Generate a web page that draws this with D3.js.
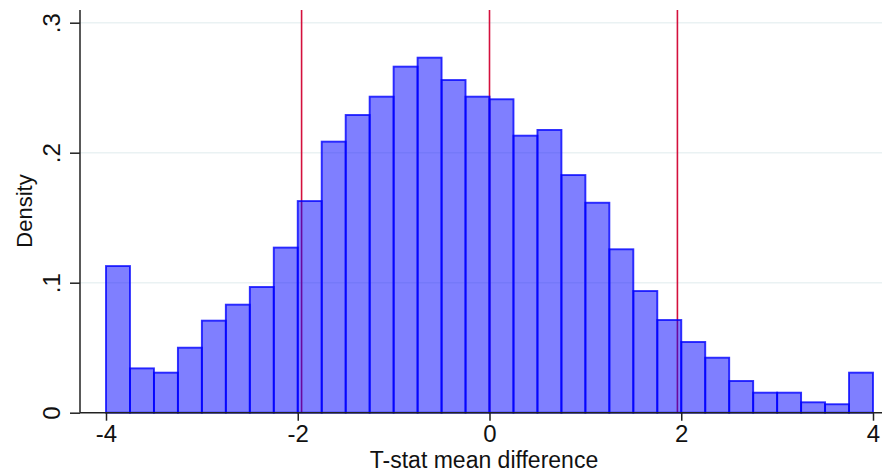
<!DOCTYPE html>
<html><head><meta charset="utf-8">
<script src="https://cdn.jsdelivr.net/npm/d3@7"></script>
<style>body{margin:0;background:#fff} svg{display:block}</style>
</head><body><svg id="c" width="882" height="474"></svg>
<script>
// ---- data ----
const binStart = -4;
const binWidth = 0.25;
const density = [
  0.1128, 0.0341, 0.0308, 0.0500, 0.0708, 0.0831, 0.0967, 0.1270,
  0.1628, 0.2085, 0.2290, 0.2431, 0.2662, 0.2731, 0.2559, 0.2431,
  0.2411, 0.2131, 0.2175, 0.1828, 0.1615, 0.1257, 0.0936, 0.0713,
  0.0544, 0.0423, 0.0244, 0.0154, 0.0154, 0.0080, 0.0065, 0.0308
];
const xTicks = [-4, -2, 0, 2, 4];
const xTickLabels = ["-4", "-2", "0", "2", "4"];
const yTicks = [0, 0.1, 0.2, 0.3];
const yTickLabels = ["0", ".1", ".2", ".3"];
const refLines = [-1.96, 0, 1.96];
const xTitle = "T-stat mean difference";
const yTitle = "Density";

// ---- layout ----
const W = 882, H = 474;
const plotLeft = 80, plotTop = 10, plotBottom = 412.7, plotRight = 900;
const font = "'Liberation Sans', Arial, sans-serif";

const bins = density.map((d, i) => ({x0: binStart + i * binWidth, x1: binStart + (i + 1) * binWidth, v: d}));

const x = d3.scaleLinear().domain([-4, 4]).range([106, 873]);
const y = d3.scaleLinear().domain([0, 0.3]).range([plotBottom, 22.7]);

const svg = d3.select("#c");
svg.append("rect").attr("width", W).attr("height", H).attr("fill", "#fff");

// gridlines
svg.append("g").selectAll("line").data(yTicks.filter(t => t > 0)).join("line")
  .attr("x1", plotLeft).attr("x2", plotRight)
  .attr("y1", d => y(d)).attr("y2", d => y(d))
  .attr("stroke", "#eaf2f3").attr("stroke-width", 1.5);

// reference lines (behind bars)
svg.append("g").selectAll("line").data(refLines).join("line")
  .attr("x1", d => x(d)).attr("x2", d => x(d))
  .attr("y1", plotTop).attr("y2", plotBottom)
  .attr("stroke", "#d4103c").attr("stroke-width", 1.6);

// bars
svg.append("g").selectAll("rect").data(bins).join("rect")
  .attr("x", d => x(d.x0)).attr("width", d => x(d.x1) - x(d.x0))
  .attr("y", d => y(d.v)).attr("height", d => y(0) - y(d.v))
  .attr("fill", "#0000ff").attr("fill-opacity", 0.5)
  .attr("stroke", "#0000ff").attr("stroke-opacity", 0.8).attr("stroke-width", 1.9);

// x axis
const xAxis = d3.axisBottom(x).tickValues(xTicks).tickSize(8).tickSizeOuter(0)
  .tickFormat((d, i) => xTickLabels[i]).tickPadding(4);
const gx = svg.append("g").attr("transform", `translate(0,${plotBottom})`).call(xAxis);
gx.select(".domain").remove();
gx.selectAll(".tick line").attr("stroke", "#222").attr("stroke-width", 1.5);
gx.selectAll(".tick text").attr("font-family", font).attr("font-size", 24).attr("fill", "#111");
svg.append("line").attr("x1", plotLeft).attr("x2", plotRight)
  .attr("y1", plotBottom).attr("y2", plotBottom)
  .attr("stroke", "#222").attr("stroke-width", 1.5);

// y axis
const yAxis = d3.axisLeft(y).tickValues(yTicks).tickSize(10).tickSizeOuter(0)
  .tickFormat((d, i) => yTickLabels[i]);
const gy = svg.append("g").attr("transform", `translate(${plotLeft},0)`).call(yAxis);
gy.select(".domain").remove();
gy.selectAll(".tick line").attr("stroke", "#222").attr("stroke-width", 1.5);
gy.selectAll(".tick text")
  .attr("font-family", font).attr("font-size", 24).attr("fill", "#111")
  .attr("x", null).attr("dy", null)
  .attr("text-anchor", "middle")
  .attr("transform", "translate(-20,0) rotate(-90)");
svg.append("line").attr("x1", plotLeft).attr("x2", plotLeft)
  .attr("y1", plotTop).attr("y2", plotBottom)
  .attr("stroke", "#222").attr("stroke-width", 1.5);

// titles
svg.append("text").attr("x", 484).attr("y", 468).attr("text-anchor", "middle")
  .attr("font-family", font).attr("font-size", 23).attr("fill", "#111").text(xTitle);
svg.append("text").attr("transform", `translate(32,211) rotate(-90)`).attr("text-anchor", "middle")
  .attr("font-family", font).attr("font-size", 22).attr("fill", "#111").text(yTitle);
</script></body></html>
